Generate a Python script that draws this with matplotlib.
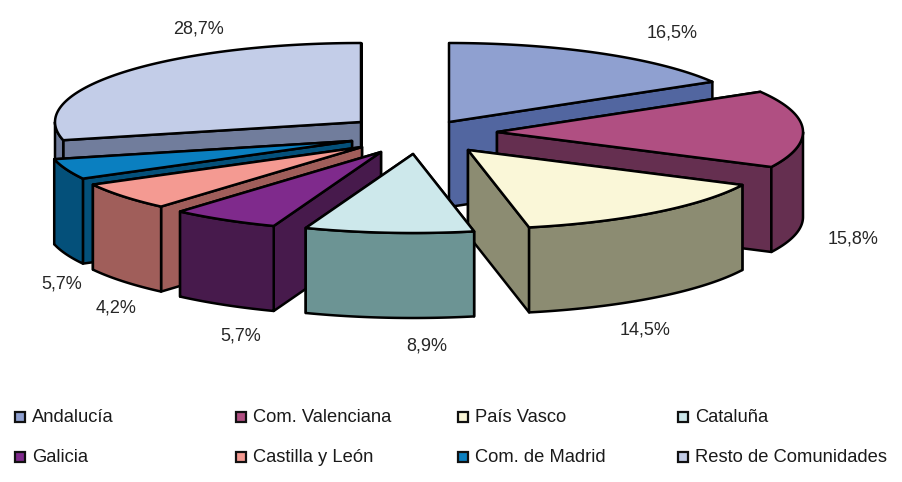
import numpy as np
import matplotlib
matplotlib.use("Agg")
import matplotlib.pyplot as plt
from matplotlib.patches import Polygon, Rectangle

# Values
regions = ["Andalucía", "Com. Valenciana", "País Vasco", "Cataluña",
           "Galicia", "Castilla y León", "Com. de Madrid", "Resto de Comunidades"]
# slice sizes as drawn (the picture's Castilla/Madrid slices disagree with their printed labels)
shares = [16.5, 15.8, 14.5, 8.9, 5.7, 5.7, 4.2, 28.7]
labels = ["16,5%", "15,8%", "14,5%", "8,9%", "5,7%", "4,2%", "5,7%", "28,7%"]

# Colours
top_colors = ["#8fa0d0", "#b04f82", "#faf7d8", "#cde8eb", "#7f2a8c", "#f49a92", "#0a7fc0", "#c3cde8"]
side_colors = ["#5266a0", "#652f50", "#8c8c72", "#6c9494", "#471a4c", "#a05e5a", "#04507a", "#717d9c"]

# Layout, in pixels of the 903x482 picture
RX = 306
RY = 79
DEPTH = 85
apex = [(449, 122), (497, 132), (468, 150), (413, 154), (381, 152), (362, 147), (352, 141), (361, 122)]
draw_order = [7, 0, 1, 6, 5, 2, 4, 3]
label_pos = [(672, 33), (853, 239), (645, 330), (427, 346), (241, 336), (116, 308), (62, 284), (199, 29)]
legend_x = [15, 236, 458, 678]
legend_y = [417, 457]
LINE = 1.8


def arc_points(center, a0, a1):
    # angles in degrees, clockwise from the top of the ellipse
    t = np.radians(np.linspace(a0, a1, 80))
    return np.column_stack((center[0] + RX * np.sin(t), center[1] - RY * np.cos(t)))


def draw_slice(ax, center, a0, a1, top, side):
    arc = arc_points(center, a0, a1)
    down = np.array([0, DEPTH])
    c = np.array(center)

    faces = []
    for p in (arc[0], arc[-1]):
        faces.append(np.array([c, p, p + down, c + down]))
    # back one first, so the visible one ends up in front
    faces.sort(key=lambda f: f[:, 1].mean())
    for f in faces:
        ax.add_patch(Polygon(f, closed=True, fc=side, ec="black", lw=LINE, joinstyle="round"))

    # only the part of the rim that faces the viewer
    lo = max(a0, 90)
    hi = min(a1, 270)
    if lo < hi:
        rim = arc_points(center, lo, hi)
        ax.add_patch(Polygon(np.vstack((rim, rim[::-1] + down)), closed=True, fc=side,
                             ec="black", lw=LINE, joinstyle="round"))

    ax.add_patch(Polygon(np.vstack((c, arc)), closed=True, fc=top, ec="black", lw=LINE, joinstyle="round"))


fig = plt.figure(figsize=(9.03, 4.82), dpi=100)
ax = fig.add_axes([0, 0, 1, 1])
ax.set_xlim(0, 903)
ax.set_ylim(482, 0)
ax.axis("off")

edges = np.concatenate(([0], np.cumsum(shares))) / sum(shares) * 360
for i in draw_order:
    draw_slice(ax, apex[i], edges[i], edges[i + 1], top_colors[i], side_colors[i])

plt.rcParams["font.family"] = "Liberation Sans"

for text, (x, y) in zip(labels, label_pos):
    ax.text(x, y, text, ha="center", va="center", fontsize=13, color="#262626")

for i, name in enumerate(regions):
    x = legend_x[i % 4]
    y = legend_y[i // 4]
    ax.add_patch(Rectangle((x, y - 5), 10, 10, fc=top_colors[i], ec="#111111", lw=1.6))
    ax.text(x + 17, y, name, ha="left", va="center", fontsize=13.2, color="#1a1a1a")

fig.savefig("out.png", dpi=100, facecolor="white")
plt.close(fig)
